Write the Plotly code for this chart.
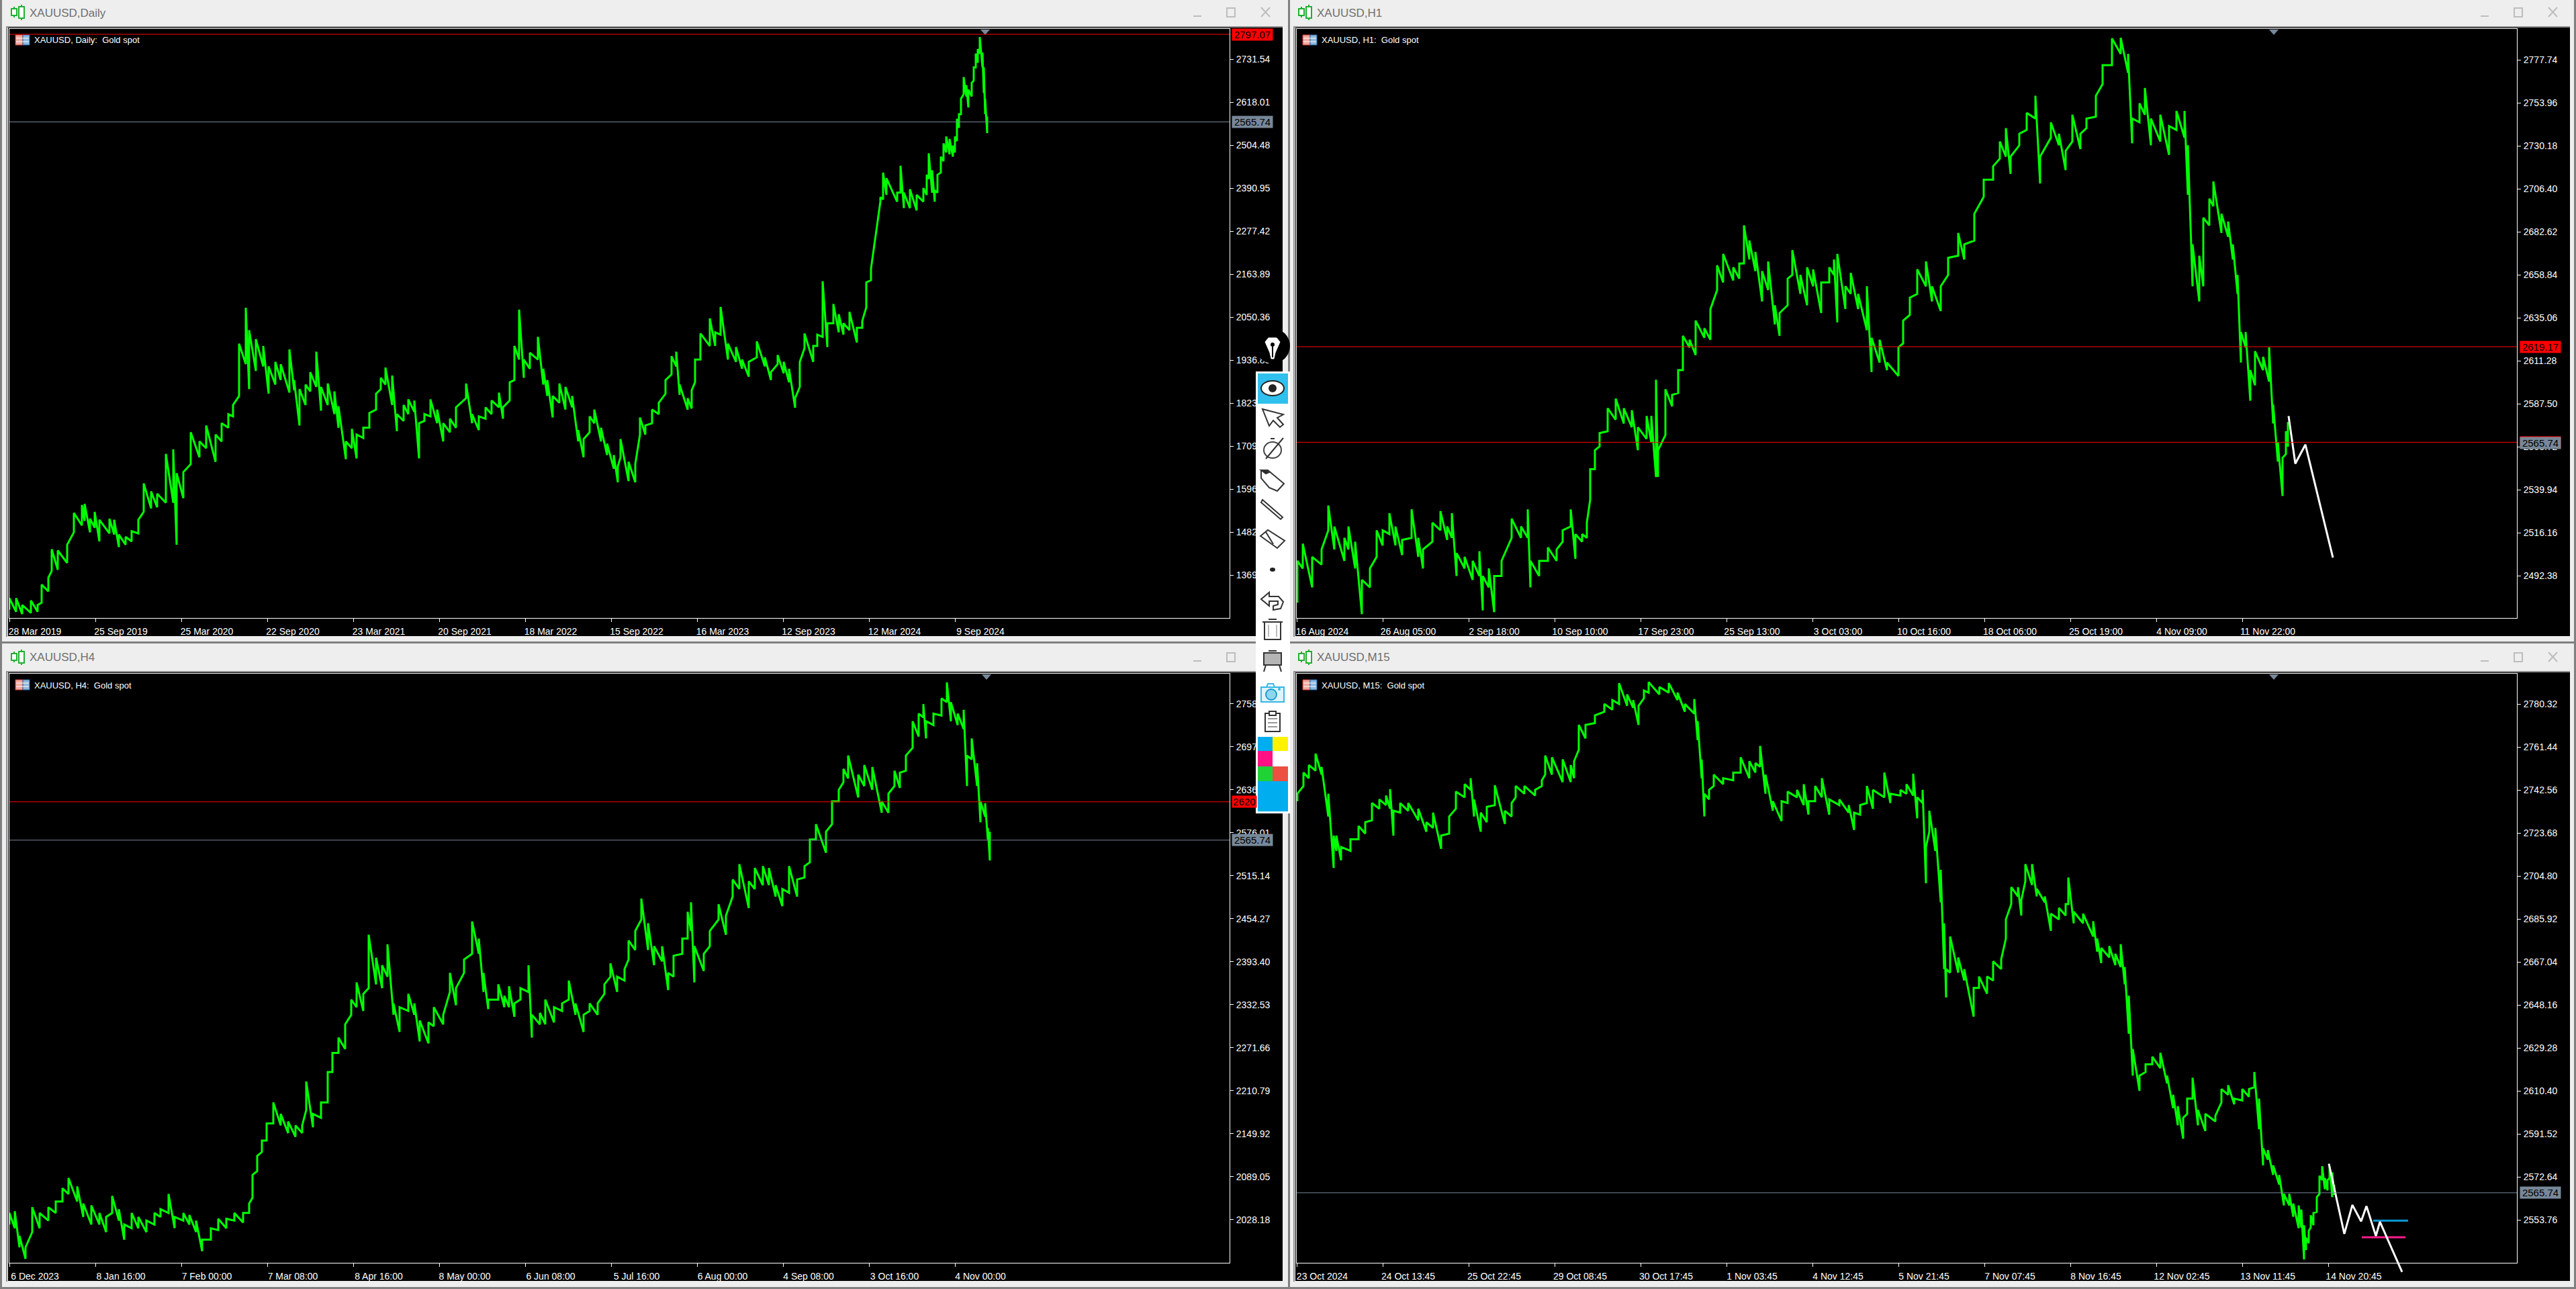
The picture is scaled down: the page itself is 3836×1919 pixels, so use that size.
import plotly.graph_objects as go

W, H = 3836, 1919

# ---------- Daily ----------
D_BARS = [0,10,19,32,42,48,58,63,72,86,96,108,112,120,127,134,149,156,163,173,182,192,200,211,220,233,244,249,259,270,
 283,293,307,316,326,333,342,352,357,367,378,386,396,404,417,424,432,441,448,457,464,474,484,490,501,510,517,527,536,546,
 553,560,570,577,587,594,603,610,618,627,637,646,656,665,680,689,699,709,718,729,735,745,752,759,766,775,787,795,801,809,
 819,828,838,847,855,864,871,881,890,900,906,910,922,932,939,947,957,967,977,986,993,998,1010,1016,1021,1029,1043,1051,1059,1070,
 1082,1091,1101,1113,1125,1134,1144,1153,1161,1170,1177,1184,1197,1203,1211,1218,1227,1235,1242,1251,1262,1270,1276,1283,
 1297,1301,1306,1322,1327,1332,1341,1351,1361,1366,1369,1374,1378,1382,1387,1391,1395,1400,1405,1408,1411,1414,1417,1421,1425,1428,1433,1436,1439,1442,1445,1449,1451,1453,1456]
D_HIGH = [1308,1308,1290,1302,1290,1344,1362,1437,1434,1449,1533,1554,1557,1518,1536,1515,1518,1515,1476,1470,1485,1515,1611,1590,1584,1689,1701,1638,1641,1746,
 1722,1764,1740,1770,1794,1818,1980,2075,2016,1992,1974,1920,1932,1926,1965,1884,1860,1872,1905,1959,1866,1875,1854,1815,1722,1755,1740,1758,1797,1848,
 1890,1917,1896,1794,1818,1833,1830,1770,1794,1833,1806,1770,1782,1812,1875,1794,1788,1812,1830,1851,1812,1878,1974,2070,1938,1956,1998,1914,1884,1842,
 1875,1866,1842,1752,1728,1788,1806,1758,1716,1686,1656,1728,1668,1662,1785,1764,1806,1824,1884,1947,1959,1872,1836,1857,1938,2007,2047,2010,2077,1980,
 1971,1938,1932,1986,1944,1905,1950,1932,1914,1836,1932,2007,1974,2004,2145,2034,2085,2058,2034,2064,2022,2040,2142,2178,
 2367,2432,2417,2379,2450,2379,2388,2373,2391,2426,2483,2438,2385,2426,2474,2509,2527,2521,2503,2527,2574,2586,2627,2684,2663,2651,2669,2710,2746,2758,2790,2749,2710,2627,2580]
D_LOW = [1278,1272,1266,1269,1272,1296,1326,1380,1383,1401,1482,1500,1512,1482,1494,1458,1479,1476,1443,1449,1458,1479,1536,1545,1548,1560,1560,1449,1572,1662,
 1680,1704,1668,1722,1758,1788,1842,1926,1860,1908,1920,1848,1872,1884,1851,1857,1764,1818,1854,1866,1803,1818,1794,1758,1675,1704,1677,1731,1758,1806,
 1860,1872,1818,1749,1776,1794,1800,1677,1776,1788,1770,1722,1746,1758,1836,1770,1752,1782,1794,1812,1782,1830,1884,1938,1890,1914,1938,1872,1842,1785,
 1824,1806,1812,1722,1680,1746,1770,1722,1686,1650,1614,1680,1617,1614,1740,1740,1770,1794,1848,1899,1920,1845,1806,1809,1878,1938,1974,1974,2004,1938,
 1932,1914,1893,1944,1920,1884,1926,1902,1878,1811,1866,1968,1932,1974,1998,1971,2034,2010,2004,2016,1983,2022,2076,2148,
 2355,2361,2373,2355,2379,2338,2338,2332,2355,2373,2415,2379,2355,2379,2432,2462,2485,2480,2474,2485,2515,2550,2586,2639,2633,2604,2633,2675,2710,2722,2746,2710,2642,2586,2536]
D_TICKS = [2731.54,2618.01,2504.48,2390.95,2277.42,2163.89,2050.36,1936.83,1823.30,1709.77,1596.24,1482.71,1369.18]
D_DATES = ["28 Mar 2019","25 Sep 2019","25 Mar 2020","22 Sep 2020","23 Mar 2021","20 Sep 2021","18 Mar 2022","15 Sep 2022","16 Mar 2023","12 Sep 2023","12 Mar 2024","9 Sep 2024"]

# ---------- H1 ----------
H1_BARS = [1,9,23,37,47,56,71,77,87,97,109,119,128,138,147,157,171,181,188,202,214,224,231,238,250,262,272,277,286,294,
 305,320,334,344,348,361,374,387,396,408,415,425,432,437,444,451,463,475,487,499,508,521,528,535,538,549,559,568,575,585,
 594,607,616,626,635,650,659,666,674,683,693,702,712,719,731,738,750,760,769,781,793,800,805,817,825,836,849,856,868,879,
 896,903,913,924,937,946,959,970,985,994,1009,1023,1037,1047,1056,1063,1076,1087,1100,1107,1123,1135,1145,1155,1167,1176,1190,1200,1214,1227,
 1238,1244,1255,1263,1272,1286,1299,1310,1322,1327,1334,1344,1350,1359,1365,1377,1387,1394,1401,1406,1413,1420,1427,1439,1448,1454,1461,1468,1473,1476]
H1_HIGH = [2500.7,2510.2,2502.9,2507,2531.3,2519.7,2513.4,2519.7,2511.3,2490.2,2496.5,2517.6,2517.6,2527.1,2519.7,2512.3,2529.2,2513.4,2507,2521.8,2528.2,2519.7,2527.1,2505,2502.9,2500.7,2506,2492.3,2496.5,2492.3,
 2500.7,2524,2519.7,2529.2,2500.7,2500.7,2508.1,2507,2517.6,2529.2,2515.5,2515.5,2521.8,2551.4,2561.9,2571.4,2585.1,2590.4,2585.1,2584,2574.6,2580.9,2580.9,2600.9,2561.9,2595.6,2592.5,2606.2,2625.2,2623,
 2633.6,2629.4,2639.9,2664.2,2670.5,2663.1,2665.2,2686.3,2677.9,2671.6,2661,2666.3,2642.1,2637.8,2656.8,2672.6,2658.9,2663.1,2662,2654.7,2663.1,2667.4,2670.5,2652.6,2660,2648.4,2652.6,2624.1,2623,2610.4,
 2618.8,2633.6,2646.3,2662,2666.3,2652.6,2652.6,2668.4,2682.1,2675.8,2692.7,2711.6,2719,2732.7,2740.1,2724.3,2737,2748.5,2758,2724.3,2743.3,2737,2727.5,2747.5,2737,2745.4,2758,2774.9,2789.7,2790.1,
 2781.2,2745.4,2753.8,2762.3,2745.4,2747.5,2741.2,2749.6,2749.6,2730.6,2675.8,2669.5,2690.5,2701.1,2710.6,2692.7,2688.4,2675.8,2658.9,2627.3,2627.3,2606.2,2616.7,2613.6,2618.8,2587.2,2566.1,2557.7,2572.4,2577.5]
H1_LOW = [2477.6,2496.5,2486,2498.6,2517.6,2507,2500.7,2507,2496.5,2471.2,2486,2502.9,2509.2,2515.5,2509.2,2503.9,2513.4,2502.9,2496.5,2511.3,2517.6,2512.3,2513.4,2492.3,2496.5,2490.2,2492.3,2473.3,2486,2472.3,
 2492.3,2513.4,2513.4,2513.4,2486,2492.3,2500.7,2500.7,2511.3,2519.7,2501.8,2511.3,2513.4,2534.5,2551.4,2564,2572.4,2578.8,2576.7,2574.6,2561.9,2568.2,2566.1,2547.1,2547.1,2570.3,2586.2,2593.5,2606.2,2618.8,
 2614.6,2624.1,2623,2650.5,2654.7,2655.8,2656.8,2665.2,2667.4,2661,2644.2,2650.5,2631.5,2625.2,2642.1,2658.9,2648.4,2642.1,2652.6,2637.8,2654.7,2658.9,2632.6,2640,2648.4,2640,2628.3,2605.1,2610.4,2606.2,
 2603,2621,2636.8,2648.4,2652.6,2644.2,2638.9,2658.9,2669.5,2667.4,2677.9,2702.1,2711.6,2723.2,2724.3,2714.8,2730.6,2739.1,2745.4,2709.5,2734.8,2730.6,2716.9,2732.7,2728.5,2740.1,2746.4,2764.4,2774.9,2781.2,
 2770.7,2731.7,2743.3,2747.5,2730.6,2732.7,2725.3,2739.1,2734.8,2703.2,2652.6,2644.2,2652.6,2686.3,2696.9,2682.1,2680,2667.4,2648.4,2610.4,2618.8,2589.3,2597.8,2606.2,2599.9,2576.7,2555.6,2536.6,2559.8,2563.9]
H1_TICKS = [2777.74,2753.96,2730.18,2706.40,2682.62,2658.84,2635.06,2611.28,2587.50,2563.72,2539.94,2516.16,2492.38]
H1_DATES = ["16 Aug 2024","26 Aug 05:00","2 Sep 18:00","10 Sep 10:00","17 Sep 23:00","25 Sep 13:00","3 Oct 03:00","10 Oct 16:00","18 Oct 06:00","25 Oct 19:00","4 Nov 09:00","11 Nov 22:00"]
H1_WHITE_BARS = [1477,1487,1502,1543]
H1_WHITE = [2580.8,2554.5,2565,2502.5]

# ---------- H4 ----------
H4_BARS = [0,8,15,24,34,45,58,69,79,88,101,110,122,134,144,153,163,171,182,192,204,216,225,237,246,259,268,278,287,300,
 311,323,335,348,357,362,369,376,383,393,404,415,426,436,442,452,464,474,481,490,500,509,517,527,535,546,555,563,572,581,
 594,603,611,624,632,646,656,665,677,689,699,706,713,728,737,744,752,761,773,778,790,798,811,823,833,843,855,864,876,886,
 895,905,916,922,932,941,951,960,972,981,989,1002,1010,1015,1020,1034,1043,1056,1067,1077,1087,1101,1110,1122,1131,1141,1151,1161,1173,1184,
 1192,1201,1216,1225,1235,1242,1249,1264,1273,1285,1299,1309,1318,1326,1335,1345,1354,1361,1365,1376,1388,1396,1402,1412,1421,1426,1433,1441,1446,1453,1457,1460]
H4_HIGH = [2037.8,2040.4,2005.4,1989.2,2045.9,2037.8,2045.9,2054,2072.8,2087.4,2075.5,2051.2,2048.5,2037.8,2032.3,2062,2043.2,2021.5,2037.8,2032.3,2027,2037.8,2043.2,2064.7,2032.3,2037.8,2035,2027,2000,2016.2,
 2029.6,2029.6,2037.8,2037.8,2051.2,2091.7,2118.7,2140.3,2164.6,2194.3,2178.1,2167.3,2161.9,2161.9,2224,2178.1,2194.3,2237.5,2264.5,2286.1,2305,2340,2364.3,2348.1,2431.8,2399.4,2388.6,2418.3,2334.6,2329.2,
 2348.1,2334.6,2310.4,2307.7,2329.2,2318.4,2377.8,2356.2,2396.7,2450.7,2426.4,2377.8,2340,2361.6,2345.4,2358.9,2334.6,2356.2,2388.6,2318.4,2321.2,2340,2329.2,2334.6,2367,2334.6,2318.4,2334.6,2334.6,2361.6,
 2391.3,2372.4,2383.2,2423.7,2437.2,2483.1,2448,2415.6,2415.6,2377.8,2402.1,2426.4,2464.2,2477.7,2415.6,2404.8,2437.2,2475,2458.8,2510,2531.7,2507.4,2526.3,2529,2526.3,2502,2496.6,2529,2510,2529,
 2566.8,2588.4,2577.6,2620.7,2637,2666.6,2685.5,2658.5,2672,2669.3,2620.7,2631.5,2664,2661.2,2685.5,2734.1,2744.9,2758.4,2734.1,2744.9,2766.5,2789.2,2761.1,2744.9,2750.3,2685.5,2709.8,2674.7,2620.7,2618,2583,2577.6]
H4_LOW = [2021.5,2016.2,1989.2,1973,2010.8,2016.2,2027,2037.8,2054,2064.7,2054,2032.3,2021.5,2021.5,2010.8,2037.8,2027,2000,2016.2,2016.2,2010.8,2021.5,2032.3,2037.8,2016.2,2027,2021.5,2010.8,1983.8,2000,
 2013.5,2016.2,2027,2024.3,2037.8,2059.3,2097.1,2124.1,2140.3,2164.6,2161.9,2151,2145.7,2151,2183.5,2159.2,2172.7,2194.3,2237.5,2264.5,2269.9,2318.4,2329.2,2323.9,2356.2,2361.6,2356.2,2372.4,2318.4,2294.2,
 2323.9,2318.4,2280.7,2278,2302.3,2305,2350.8,2332,2377.8,2404.8,2404.8,2350.8,2326.5,2340,2329.2,2329.2,2315.7,2340,2350.8,2286.1,2305,2305,2307.7,2323.9,2340,2318.4,2294.2,2323.9,2318.4,2348.1,
 2372.4,2350.8,2367,2396.7,2410.2,2453.4,2410.2,2388.6,2394,2353.5,2372.4,2404.8,2426.4,2437.2,2364.3,2380.5,2415.6,2453.4,2431.8,2485.8,2496.6,2469.6,2496.6,2502,2502,2485.8,2472.3,2491.2,2485.8,2512.8,
 2534.4,2566.8,2547.9,2588.4,2620.7,2647.7,2653.1,2626.2,2642.4,2637,2604.6,2604.6,2642.4,2639.6,2664,2696.3,2712.5,2739.5,2709.8,2728.7,2742.2,2761.1,2734.1,2728.7,2723.3,2642.4,2680.1,2642.4,2591,2599.1,2566.8,2537.1]
H4_TICKS = [2758.62,2697.75,2636.88,2576.01,2515.14,2454.27,2393.40,2332.53,2271.66,2210.79,2149.92,2089.05,2028.18]
H4_DATES = ["6 Dec 2023","8 Jan 16:00","7 Feb 00:00","7 Mar 08:00","8 Apr 16:00","8 May 00:00","6 Jun 08:00","5 Jul 16:00","6 Aug 00:00","4 Sep 08:00","3 Oct 16:00","4 Nov 00:00"]

# ---------- M15 ----------
M_BARS = [1,10,18,28,37,47,55,59,66,80,92,102,112,123,133,139,144,154,166,181,193,203,215,227,237,250,259,264,274,283,
 295,310,320,326,339,355,365,370,380,396,408,413,420,430,444,458,470,480,492,501,509,517,524,540,554,567,578,592,597,603,
 607,614,621,635,650,661,674,683,690,698,709,722,731,745,755,762,772,782,793,808,822,830,839,849,858,875,884,899,908,918,
 924,932,937,942,951,959,964,967,973,985,994,1008,1016,1028,1037,1049,1056,1064,1074,1079,1085,1095,1102,1114,1123,1135,1145,1149,1157,1171,
 1186,1192,1198,1210,1219,1227,1233,1239,1245,1255,1264,1274,1286,1296,1305,1312,1320,1326,1334,1342,1353,1368,1377,1387,1396,1408,1418,1426,1433,1439,
 1446,1454,1463,1470,1478,1484,1492,1496,1500,1503,1507,1510,1514,1519,1523,1527,1531,1535,1538,1542,1545]
M_HIGH = [2741,2750.3,2753.6,2758.6,2752.8,2741,2722.6,2722.6,2717.6,2721,2726.8,2728.5,2736.9,2738.5,2740.2,2743,2733.5,2736.9,2736.9,2734.4,2728.5,2732.7,2722.6,2731,2741.9,2745.2,2747.8,2738.5,2732.7,2735.2,
 2744.7,2733.5,2736.9,2744.4,2744.4,2742.7,2746.9,2757.8,2757,2756.1,2753.6,2755.3,2771.2,2771.2,2775.4,2780.4,2782.1,2789.6,2784.6,2782.1,2779.6,2786.3,2790,2787.9,2789.6,2785.4,2780.4,2782.6,2772.9,2756.1,
 2741,2742.7,2749.4,2747.8,2750.3,2757,2755.3,2754.5,2762,2749.4,2737.7,2737.7,2741.9,2742.7,2745.2,2737.7,2744.4,2747.8,2738.5,2738.5,2736,2732.7,2736,2744.4,2742.7,2750.3,2741,2742.7,2745.2,2749.8,
 2739.4,2742.7,2717.6,2733.5,2726,2707.6,2684.1,2664,2678.3,2669.1,2664,2655.7,2660.7,2660.7,2667.4,2668.2,2685.8,2700,2700,2694.2,2710.1,2710.1,2699.2,2695.9,2688.3,2690.8,2692.5,2704.2,2689.2,2688.3,
 2685,2677.4,2673.3,2674.1,2670.7,2674.9,2664.9,2652.3,2628.9,2617.2,2622.2,2625.5,2627.2,2617.2,2608.8,2603.8,2598.7,2607.1,2616.3,2602.1,2600.4,2599.6,2611.3,2613,2607.1,2611.3,2611.3,2618.8,2607.1,2585.3,
 2584.5,2577.8,2573.6,2565.3,2565.3,2561,2560.2,2558.4,2551.5,2546,2549,2555.9,2556.9,2563.8,2573.2,2577.4,2572.2,2571.3,2577.2,2574.7,2569.3]
M_LOW = [2737.7,2744.4,2747.8,2751.1,2749.4,2731,2708.4,2715.9,2711.8,2715.9,2721,2723.5,2729.3,2734.4,2736,2734.4,2722.6,2732.7,2733.5,2729.3,2724.3,2726,2716.8,2723.5,2734.4,2739.4,2742.7,2731,2724.3,2728.5,
 2736,2727.7,2731,2739.4,2741,2740.2,2744.4,2749.4,2749.4,2746.1,2746.1,2747.8,2760.3,2765.3,2772,2777,2777.9,2780.4,2779.6,2778.7,2771.2,2782.9,2785.4,2784.6,2785.4,2782.1,2777,2776.2,2764.5,2747.8,
 2731,2738.5,2744.4,2745.2,2746.9,2750.3,2747.8,2750.3,2752.8,2741,2733.5,2729,2736.9,2739.4,2736,2731.8,2737.7,2739.4,2731.8,2736,2732.7,2725.1,2731.8,2736.9,2734.4,2739.4,2736.9,2740.2,2741,2740.2,
 2730.2,2736.9,2701.7,2724.3,2715.9,2693.3,2664,2651.5,2662.4,2662.4,2659,2643.1,2655.7,2653.2,2659,2664,2677.4,2692.5,2695.9,2687.5,2702.6,2700.9,2695.9,2693.3,2680.8,2685.8,2687.5,2692.5,2684.1,2684.1,
 2678.3,2671.6,2666.6,2669.1,2665.7,2664.9,2657.3,2635.6,2617.2,2610.5,2618.8,2622.2,2620.5,2613.8,2602.9,2595.4,2589.5,2600.4,2607.1,2595.4,2592.9,2597.1,2605.4,2608.8,2604.6,2606.3,2607.9,2612.1,2593.7,2577.8,
 2580.3,2573.6,2569.4,2560.2,2560.2,2555.2,2550.2,2550.5,2536.5,2540.6,2543.6,2550.5,2551.5,2557.4,2565.3,2571.3,2567.3,2566.8,2572.2,2563.8,2564.8]
M_TICKS = [2780.32,2761.44,2742.56,2723.68,2704.80,2685.92,2667.04,2648.16,2629.28,2610.40,2591.52,2572.64,2553.76]
M_DATES = ["23 Oct 2024","24 Oct 13:45","25 Oct 22:45","29 Oct 08:45","30 Oct 17:45","1 Nov 03:45","4 Nov 12:45","5 Nov 21:45","7 Nov 07:45","8 Nov 16:45","12 Nov 02:45","13 Nov 11:45","14 Nov 20:45"]
M_WHITE_BARS = [1537,1560,1572,1585,1593,1607,1613,1646]
M_WHITE = [2578.5,2547.7,2560.4,2553.2,2559.9,2546.8,2553,2531]
M_BLUE_BARS = [1603,1655]
M_BLUE = [2553.5,2553.5]
M_PINK_BARS = [1586,1651]
M_PINK = [2546.2,2546.2]

CURRENT = 2565.74
D_RED = 2797.07
H1_RED = 2619.17
H1_RED2 = 2566.3
H4_RED = 2620.0

for nm, a, b, c in [("D", D_BARS, D_HIGH, D_LOW), ("H1", H1_BARS, H1_HIGH, H1_LOW), ("H4", H4_BARS, H4_HIGH, H4_LOW), ("M", M_BARS, M_HIGH, M_LOW)]:
    assert len(a) == len(b) == len(c), (nm, len(a), len(b), len(c))

GREEN = "#00FF00"
SLATE = "#778899"
FONT = "Liberation Sans"

def fx(x): return x / W
def fy(y): return 1 - y / H

fig = go.Figure()
shapes, annos = [], []

def rect(x0, y0, x1, y1, fill, layer="below", line=None, lw=0):
    shapes.append(dict(type="rect", xref="paper", yref="paper", x0=fx(x0), x1=fx(x1), y0=fy(y0), y1=fy(y1),
                       fillcolor=fill, line=dict(color=line or fill, width=lw), layer=layer))

def path(pts, color="#333333", lw=2, fill=None, closed=False, layer="above"):
    d = "M" + " L".join(f"{fx(x):.6f},{fy(y):.6f}" for x, y in pts) + (" Z" if closed else "")
    s = dict(type="path", xref="paper", yref="paper", path=d, line=dict(color=color, width=lw), layer=layer)
    if fill: s["fillcolor"] = fill
    shapes.append(s)

def oval(cx, cy, rx, ry, fill, line=None, lw=0, layer="above"):
    shapes.append(dict(type="circle", xref="paper", yref="paper", x0=fx(cx-rx), x1=fx(cx+rx), y0=fy(cy+ry), y1=fy(cy-ry),
                       fillcolor=fill, line=dict(color=line or fill, width=lw), layer=layer))

def text(x, y, s, size, color, anchor="left"):
    annos.append(dict(xref="paper", yref="paper", x=fx(x), y=fy(y), text=s, showarrow=False, xanchor=anchor, yanchor="middle",
                      font=dict(family=FONT, size=size, color=color), borderpad=0))

# page background pieces
DARK = "#808080"
rect(0, 0, 3, H, DARK)
rect(1918, 0, 1921, H, DARK)
rect(3833, 0, 3836, H, DARK)
rect(0, 955, W, 958, DARK)
rect(0, 1916, W, 1919, DARK)

panes = [
 dict(x0=14, y0=43, p_top=2811.4, p_bot=1255.7, t="XAUUSD,Daily", leg="XAUUSD, Daily:  Gold spot", bars=D_BARS, hi=D_HIGH, lo=D_LOW, ticks=D_TICKS, dates=D_DATES, fx0=12, tri=1467),
 dict(x0=1931, y0=43, p_top=2795.0, p_bot=2469.1, t="XAUUSD,H1", leg="XAUUSD, H1:  Gold spot", bars=H1_BARS, hi=H1_HIGH, lo=H1_LOW, ticks=H1_TICKS, dates=H1_DATES, fx0=1929, tri=3386),
 dict(x0=14, y0=1003, p_top=2801.4, p_bot=1967.3, t="XAUUSD,H4", leg="XAUUSD, H4:  Gold spot", bars=H4_BARS, hi=H4_HIGH, lo=H4_LOW, ticks=H4_TICKS, dates=H4_DATES, fx0=12, tri=1469),
 dict(x0=1931, y0=1003, p_top=2793.7, p_bot=2535.0, t="XAUUSD,M15", leg="XAUUSD, M15:  Gold spot", bars=M_BARS, hi=M_HIGH, lo=M_LOW, ticks=M_TICKS, dates=M_DATES, fx0=1929, tri=3386),
]
PW, PH = 1817, 877
layout = {}
for i, p in enumerate(panes, start=1):
    x0, y0 = p["x0"], p["y0"]
    # window chrome
    rect(p["fx0"] - 3, y0 - 4, p["fx0"] + 1898, y0 - 2, "#909090")
    rect(p["fx0"] - 3, y0 - 3, p["fx0"] - 1, y0 + 905, "#909090")
    rect(p["fx0"], y0 - 2, p["fx0"] + 1898, y0 + 905 - 1, "#000000")
    # title
    cy = y0 - 25
    icx = p["fx0"] + 6
    for dx, top, bot in [(3, -5, 5), (14, -8, 9)]:
        path([(icx + dx, cy + top - 3), (icx + dx, cy + bot + 3)], color="#1FB02F", lw=2)
        rect(icx + dx - 4, cy + top, icx + dx + 4, cy + bot, "#FFFFFF", layer="above", line="#1FB02F", lw=2)
    text(p["fx0"] + 31, cy + 1, p["t"], 17, "#6E6E6E")
    text(x0 + 36, y0 + 17, p["leg"], 13, "#FFFFFF")
    # window buttons
    bx = x0 + 1769
    path([(bx - 6, cy + 6), (bx + 6, cy + 6)], color="#BDBDBD", lw=2)
    rect(bx + 44, cy - 6, bx + 56, cy + 7, "#EEEEEE", layer="above", line="#BDBDBD", lw=2)
    path([(bx + 95, cy - 7), (bx + 108, cy + 7)], color="#BDBDBD", lw=2)
    path([(bx + 95, cy + 7), (bx + 108, cy - 7)], color="#BDBDBD", lw=2)
    # flag icon
    fxx = x0 + 9
    rect(fxx, y0 + 9, fxx + 11, y0 + 24, "#F0A8A0", layer="above", line="#D23A2E", lw=1)
    rect(fxx + 11, y0 + 9, fxx + 21, y0 + 24, "#8FB8DC", layer="above", line="#1F66A8", lw=1)
    for dy in (14, 19):
        path([(fxx + 1, y0 + dy), (fxx + 20, y0 + dy)], color="#FFFFFF", lw=1)
    # shift triangle
    path([(p["tri"] - 7, y0 + 1), (p["tri"] + 7, y0 + 1), (p["tri"], y0 + 9)], color=SLATE, lw=0, fill=SLATE, closed=True)

    # bars: low->high strokes joined into one jagged line
    sfx = "" if i == 1 else str(i)
    xs, ys = [], []
    for b, h, l in zip(p["bars"], p["hi"], p["lo"]):
        xs += [b, b]; ys += [l, h]
    fig.add_trace(go.Scatter(x=xs, y=ys, mode="lines", line=dict(color=GREEN, width=3, simplify=False), xaxis=f"x{sfx}", yaxis=f"y{sfx}", hoverinfo="skip"))
    axf = dict(family=FONT, size=14, color="#FFFFFF")
    layout[f"xaxis{sfx}"] = dict(domain=[fx(x0), fx(x0 + PW)], range=[0, PW], anchor=f"y{sfx}", showgrid=False, zeroline=False,
        showline=True, linecolor="#FFFFFF", linewidth=1, mirror=True, ticks="outside", ticklen=5, tickcolor="#FFFFFF", tickwidth=1,
        tickmode="array", tickvals=[128 * k for k in range(len(p["dates"]))], ticktext=p["dates"], tickfont=axf, tickangle=0,
        ticklabelshift=38, ticklabeloverflow="allow", ticklabelstandoff=2)
    layout[f"yaxis{sfx}"] = dict(domain=[fy(y0 + PH), fy(y0)], range=[p["p_bot"], p["p_top"]], anchor=f"x{sfx}", side="right", showgrid=False, zeroline=False,
        showline=True, linecolor="#FFFFFF", linewidth=1, mirror=True, ticks="outside", ticklen=5, tickcolor="#FFFFFF", tickwidth=1,
        tickmode="array", tickvals=p["ticks"], ticktext=[f"{v:.2f}" for v in p["ticks"]], tickfont=axf, ticklabeloverflow="allow", ticklabelstandoff=1)

def hline(yref, val, color):
    shapes.append(dict(type="line", xref=yref.replace("y", "x") + " domain", yref=yref, x0=0, x1=1, y0=val, y1=val, line=dict(color=color, width=1), layer="above"))

def tag(xpx, yref, val, s, bg, w=60):
    annos.append(dict(xref="paper", yref=yref, x=fx(xpx), y=val, text=s, showarrow=False, xanchor="left", yanchor="middle", width=w, height=17,
                      align="center", bgcolor=bg, borderpad=0, font=dict(family=FONT, size=15, color="#000000")))

hline("y", D_RED, "#FF0000"); hline("y", CURRENT, SLATE)
hline("y2", H1_RED, "#FF0000"); hline("y2", H1_RED2, "#FF0000")
hline("y3", H4_RED, "#FF0000"); hline("y3", CURRENT, SLATE)
hline("y4", CURRENT, SLATE)
tag(1834, "y", D_RED, "2797.07", "#FF0000")
tag(1834, "y", CURRENT, "2565.74", SLATE)
tag(3752, "y2", H1_RED, "2619.17", "#FF0000")
tag(3752, "y2", H1_RED2, "", "#FF0000")
tag(3752, "y2", CURRENT, "2565.74", SLATE)
tag(1834, "y3", H4_RED, "2620", "#FF0000", w=36)
tag(1834, "y3", CURRENT, "2565.74", SLATE)
tag(3752, "y4", CURRENT, "2565.74", SLATE)

# hand-drawn trend lines
fig.add_trace(go.Scatter(x=H1_WHITE_BARS, y=H1_WHITE, mode="lines", line=dict(color="#FFFFFF", width=3), xaxis="x2", yaxis="y2", hoverinfo="skip"))
# extra axes: same scale as the M15 pane, but reaching below its frame (the drawing runs past it)
OV_BOTTOM = 1905
p4 = panes[3]
per_px = (p4["p_top"] - p4["p_bot"]) / PH
layout["xaxis5"] = dict(domain=layout["xaxis4"]["domain"], range=[0, PW], anchor="y5", visible=False)
layout["yaxis5"] = dict(domain=[fy(OV_BOTTOM), fy(1003)], range=[p4["p_top"] - per_px * (OV_BOTTOM - 1003), p4["p_top"]], anchor="x5", visible=False)
fig.add_trace(go.Scatter(x=M_BLUE_BARS, y=M_BLUE, mode="lines", line=dict(color="#0A9BD6", width=3), xaxis="x5", yaxis="y5", hoverinfo="skip"))
fig.add_trace(go.Scatter(x=M_PINK_BARS, y=M_PINK, mode="lines", line=dict(color="#FF1A8C", width=3), xaxis="x5", yaxis="y5", hoverinfo="skip"))
fig.add_trace(go.Scatter(x=M_WHITE_BARS, y=M_WHITE, mode="lines", line=dict(color="#FFFFFF", width=3), xaxis="x5", yaxis="y5", hoverinfo="skip"))

# drawing toolbar
oval(1895, 515, 26, 26, "#000000")
path([(1884, 509), (1889, 503), (1901, 503), (1906, 509), (1899, 525), (1897, 534), (1893, 534), (1891, 525)], color="#FFFFFF", lw=1, fill="#FFFFFF", closed=True)
oval(1895, 513, 3, 3, "#000000")
path([(1895, 515), (1895, 532)], color="#000000", lw=2)
rect(1870, 553, 1921, 1211, "#FFFFFF", layer="above")
rect(1873, 556, 1918, 601, "#2FC0EE", layer="above")
oval(1895, 578, 17, 11, "#FFFFFF", line="#222222", lw=2)
oval(1895, 578, 6, 6, "#222222")
path([(1880, 609), (1911, 617), (1902, 622), (1911, 632), (1906, 636), (1896, 626), (1890, 634)], fill="#FFFFFF", closed=True)
oval(1895, 670, 13, 12, "#FFFFFF", line="#444444", lw=2)
path([(1885, 683), (1911, 652)], lw=2)
path([(1892, 653), (1898, 653)], lw=2)
path([(1878, 700), (1888, 700), (1912, 720), (1902, 731), (1890, 726), (1878, 712)], fill="#FFFFFF", closed=True)
path([(1878, 700), (1885, 705), (1890, 703), (1882, 700)], fill="#222222", closed=True)
path([(1880, 744), (1910, 770), (1907, 773), (1878, 748)], fill="#FFFFFF", closed=True)
path([(1877, 798), (1888, 789), (1913, 805), (1902, 816)], fill="#FFFFFF", closed=True)
path([(1885, 792), (1896, 810)], lw=2)
oval(1895, 848, 4, 3, "#222222")
path([(1878, 892), (1890, 882), (1890, 888), (1904, 888), (1911, 896), (1907, 906), (1896, 908), (1896, 902), (1903, 900), (1903, 895), (1890, 895), (1890, 902)], fill="#FFFFFF", closed=True)
rect(1883, 926, 1907, 952, "#FFFFFF", layer="above", line="#333333", lw=2)
path([(1880, 926), (1910, 926)], lw=2)
path([(1889, 922), (1901, 922)], lw=2)
path([(1889, 930), (1889, 948)], color="#777777", lw=1)
path([(1901, 930), (1901, 948)], color="#777777", lw=1)
rect(1882, 972, 1908, 990, "#B5B5B5", layer="above", line="#333333", lw=2)
path([(1885, 990), (1882, 1000)], lw=2)
path([(1905, 990), (1908, 1000)], lw=2)
path([(1889, 969), (1901, 969)], lw=2)
rect(1878, 1023, 1912, 1045, "#DFF3FB", layer="above", line="#35B6E6", lw=2)
oval(1893, 1034, 8, 8, "#8DD6F0", line="#1C9CCB", lw=2)
oval(1905, 1026, 2, 2, "#35B6E6")
path([(1886, 1023), (1888, 1018), (1896, 1018), (1898, 1023)], color="#35B6E6", lw=2)
rect(1884, 1062, 1906, 1089, "#FFFFFF", layer="above", line="#333333", lw=2)
rect(1890, 1059, 1900, 1065, "#FFFFFF", layer="above", line="#333333", lw=2)
for yy in (1070, 1076, 1082):
    path([(1888, yy), (1902, yy)], lw=1)
rect(1873, 1097, 1895, 1118, "#00AEEF", layer="above")
rect(1895, 1097, 1918, 1118, "#FFF200", layer="above")
rect(1873, 1118, 1895, 1141, "#FF1185", layer="above")
rect(1873, 1141, 1895, 1163, "#1FD336", layer="above")
rect(1895, 1141, 1918, 1163, "#EC5040", layer="above")
rect(1873, 1163, 1918, 1208, "#00AEEF", layer="above")

fig.update_layout(width=W, height=H, margin=dict(l=0, r=0, t=0, b=0), autosize=False, showlegend=False,
                  paper_bgcolor="#EEEEEE", plot_bgcolor="rgba(0,0,0,0)", shapes=shapes, annotations=annos, **layout)
fig.write_html("out.html", config={"displayModeBar": False},
               post_script="document.body.style.margin='0';document.body.style.overflow='hidden';")
